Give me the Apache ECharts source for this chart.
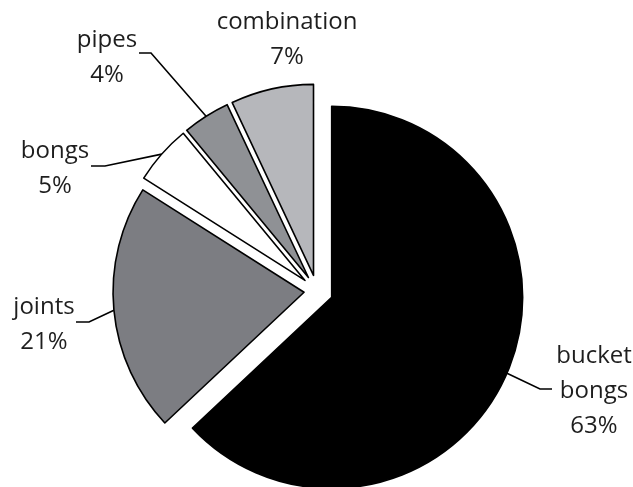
<!DOCTYPE html>
<html>
<head>
<meta charset="utf-8">
<script src="https://cdn.jsdelivr.net/npm/echarts@6/dist/echarts.min.js"></script>
<style>
  html, body { margin: 0; padding: 0; background: #ffffff; }
  #chart { width: 633px; height: 487px; }
</style>
</head>
<body>
<div id="chart"></div>
<script>
// ---- data ----
const categories = ['bucket bongs', 'joints', 'bongs', 'pipes', 'combination'];
const shares = [63, 21, 5, 4, 7];

// ---- styling ----
const fills = ['#000000', '#7c7d82', '#ffffff', '#8f9195', '#b6b7bb'];
const pieCenter = [317, 291];
const pieRadius = 191;
const explode = [16, 13, 16, 16, 16];
// label block centres and leader-line elbow / end points (styling only)
const labelPos = [[594, 391], [44, 325], [55, 169], [107, 58], [287, 40]];
const leaders = [[[540, 389], [552, 389]], [[89, 322], [76, 322]], [[105, 166], [91, 166]], [[151, 53], [139, 53]], null];

const chart = echarts.init(document.getElementById('chart'), null, { renderer: 'canvas' });

const total = shares.reduce((a, b) => a + b, 0);
let acc = 0;
const series = categories.map((cat, i) => {
  const mid = (acc + shares[i] / 2) / total * Math.PI * 2;
  acc += shares[i];
  const cx = pieCenter[0] + explode[i] * Math.sin(mid);
  const cy = pieCenter[1] - explode[i] * Math.cos(mid);
  return {
    type: 'pie',
    silent: true,
    center: [cx, cy],
    radius: pieRadius,
    startAngle: 90,
    clockwise: true,
    avoidLabelOverlap: false,
    emphasis: { disabled: true },
    label: {
      position: 'outside',
      color: '#1e1e1e',
      fontFamily: 'Open Sans',
      fontSize: 24,
      lineHeight: 35,
      formatter: p => p.name.split(' ').map(s => '{t|' + s + '}').join('\n') + '\n{t|' + p.percent + '%}',
      rich: { t: { align: 'center', fontFamily: 'Open Sans', fontSize: 24, lineHeight: 35, color: '#1e1e1e' } }
    },
    labelLine: { length: 20, length2: 10, lineStyle: { color: '#000000', width: 1.6 } },
    labelLayout: function (params) {
      if (params.dataIndex !== i) return {};
      const out = { x: labelPos[i][0], y: labelPos[i][1], align: 'center', verticalAlign: 'middle' };
      if (leaders[i] && params.labelLinePoints) {
        out.labelLinePoints = [params.labelLinePoints[0], leaders[i][0], leaders[i][1]];
      }
      return out;
    },
    data: categories.map((name, j) => ({
      name: name,
      value: shares[j],
      itemStyle: j === i
        ? { color: fills[j], borderColor: '#000000', borderWidth: 1.6 }
        : { color: 'rgba(0,0,0,0)', borderWidth: 0 },
      label: { show: j === i },
      labelLine: { show: j === i && leaders[j] !== null }
    }))
  };
});

chart.setOption({
  animation: false,
  backgroundColor: '#ffffff',
  series: series
});
</script>
</body>
</html>
